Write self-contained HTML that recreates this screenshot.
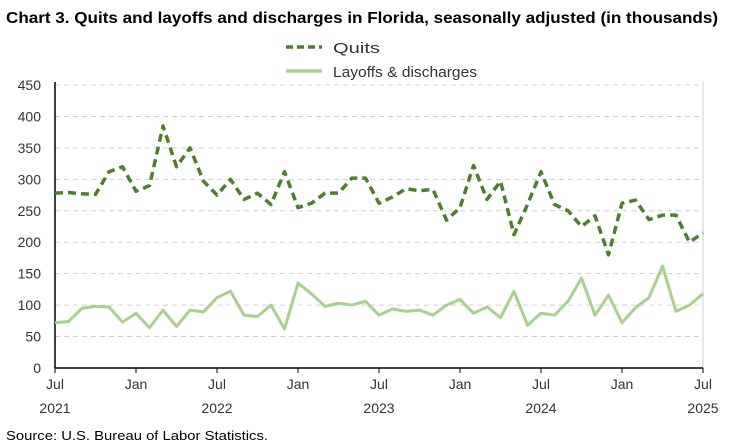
<!DOCTYPE html>
<html><head><meta charset="utf-8"><style>
body{margin:0;background:#fff;font-family:"Liberation Sans",Arial,sans-serif;}
svg{display:block}
text{font-family:"Liberation Sans",Arial,sans-serif;}
</style></head><body>
<svg width="744" height="446" viewBox="0 0 744 446">
<text x="6" y="23" font-size="16" font-weight="bold" fill="#000" textLength="712" lengthAdjust="spacingAndGlyphs">Chart 3. Quits and layoffs and discharges in Florida, seasonally adjusted (in thousands)</text>
<g>
<line x1="286" y1="47" x2="322" y2="47" stroke="#4e7f2e" stroke-width="3.5" stroke-dasharray="7,4"/>
<text x="333" y="53" font-size="15" fill="#333" textLength="47" lengthAdjust="spacingAndGlyphs">Quits</text>
<line x1="286" y1="71" x2="322" y2="71" stroke="#a9d18e" stroke-width="3.5"/>
<text x="333" y="77" font-size="15" fill="#333" textLength="144" lengthAdjust="spacingAndGlyphs">Layoffs &amp; discharges</text>
</g>
<g id="grid"></g><g id="yt"></g><g id="xt"></g><g id="series"></g>
<text x="6" y="440" font-size="13" fill="#000" textLength="262" lengthAdjust="spacingAndGlyphs">Source: U.S. Bureau of Labor Statistics.</text>
</svg>
<script>
const quits=[278,279,277,276,312,320,281,290,385,320,350,297,275,300,268,278,260,312,255,262,278,278,302,302,262,272,285,282,284,235,255,322,268,297,212,260,312,260,250,225,242,180,262,267,236,243,243,200,215];
const layoffs=[72,74,95,98,97,73,87,64,92,66,92,89,112,122,84,82,100,62,135,118,98,103,100,106,84,94,90,92,84,100,109,87,97,80,122,68,87,84,106,143,84,116,72,96,112,162,90,100,118];
const yTicks=[0,50,100,150,200,250,300,350,400,450];
const xLabels=["Jul","Jan","Jul","Jan","Jul","Jan","Jul","Jan","Jul"];
const yearLabels=["2021","","2022","","2023","","2024","","2025"];
const NS="http://www.w3.org/2000/svg";
const L=55,R=703,T=85,B=368,yMax=450,n=quits.length;
const xs=i=>L+(R-L)*i/(n-1);
const ys=v=>B-(B-T)*v/yMax;
function mk(tag,attrs,parent){const e=document.createElementNS(NS,tag);for(const k in attrs)e.setAttribute(k,attrs[k]);document.getElementById(parent).appendChild(e);return e;}
yTicks.forEach(v=>{
 if(v>0){const g=mk('line',{x1:L,x2:R,y1:ys(v),y2:ys(v),stroke:'#d0d0d0','stroke-width':1,'stroke-dasharray':'5,4'},'grid');
 
 }
 const t=mk('text',{x:41,y:ys(v)+5,'font-size':14,'text-anchor':'end',fill:'#333'},'yt');t.textContent=v;
 
 
});
const ax=mk('line',{x1:L,x2:L,y1:T-3,y2:B,stroke:'#000','stroke-width':1.5},'grid');


const rx=mk('line',{x1:R,x2:R,y1:T-3,y2:B,stroke:'#d0d0d0','stroke-width':1},'grid');


const bx=mk('line',{x1:L,x2:R,y1:B,y2:B,stroke:'#000','stroke-width':1.5},'grid');


xLabels.forEach((lab,k)=>{
 const x=xs(k*6);
 const tk=mk('line',{x1:x,x2:x,y1:B,y2:B+5,stroke:'#000','stroke-width':1},'xt');
 
 
 const t=mk('text',{x:x,y:389,'font-size':14,'text-anchor':'middle',fill:'#333'},'xt');t.textContent=lab;
 
 
 if(yearLabels[k]){const y=mk('text',{x:x,y:413,'font-size':14,'text-anchor':'middle',fill:'#333'},'xt');y.textContent=yearLabels[k];
 
 }
});
function line(arr,attrs,name){const p=mk('polyline',Object.assign({points:arr.map((v,i)=>xs(i)+','+ys(v)).join(' '),fill:'none','stroke-linejoin':'round'},attrs),'series');
 
 }
line(layoffs,{stroke:'#a9d18e','stroke-width':3},'layoffs-line');
line(quits,{stroke:'#4e7f2e','stroke-width':3.5,'stroke-dasharray':'8,5'},'quits-line');
</script>
</body></html>
